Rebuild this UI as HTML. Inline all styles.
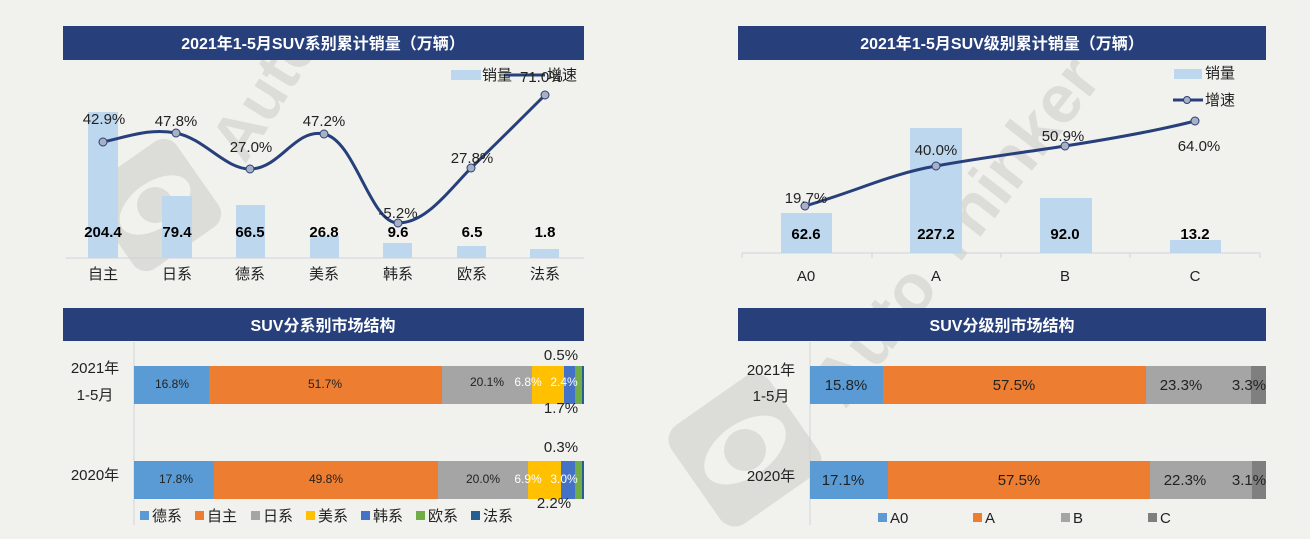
<!DOCTYPE html>
<html><head><meta charset="utf-8"><style>
html,body{margin:0;padding:0;background:#f1f2ee;}
svg{display:block;font-family:"Liberation Sans","Noto Sans CJK SC",sans-serif;}
</style></head><body>
<svg width="1310" height="539" viewBox="0 0 1310 539" xmlns="http://www.w3.org/2000/svg">
<rect width="1310" height="539" fill="#f1f2ee"/>
<!-- watermarks -->
<g fill="#dcddd9">
 <g transform="translate(155,205) rotate(-35)"><rect x="-52" y="-52" width="104" height="104" rx="16"/><ellipse cx="0" cy="0" rx="40" ry="23" fill="#f1f2ee"/><circle cx="0" cy="0" r="18"/></g>
 <text x="0" y="0" font-size="64" font-weight="bold" transform="translate(245,165) rotate(-58)">Auto</text>
 <g transform="translate(745,450) rotate(-35)"><rect x="-60" y="-60" width="120" height="120" rx="18"/><ellipse cx="0" cy="0" rx="46" ry="27" fill="#f1f2ee"/><circle cx="0" cy="0" r="21"/></g>
 <text x="0" y="0" font-size="68" font-weight="bold" transform="translate(845,410) rotate(-52)">Auto Thinker</text>
</g>
<!-- headers -->
<g fill="#273f7a">
 <rect x="63" y="26" width="521" height="34"/>
 <rect x="738" y="26" width="528" height="34"/>
 <rect x="63" y="308" width="521" height="33"/>
 <rect x="738" y="308" width="528" height="33"/>
</g>
<g fill="#fff" font-weight="bold" font-size="16" text-anchor="middle">
 <text x="323" y="49">2021年1-5月SUV系别累计销量（万辆）</text>
 <text x="1002" y="49">2021年1-5月SUV级别累计销量（万辆）</text>
 <text x="323" y="331">SUV分系别市场结构</text>
 <text x="1002" y="331">SUV分级别市场结构</text>
</g>

<!-- top-left chart -->
<line x1="66" y1="258" x2="584" y2="258" stroke="#d0d3d8"/>
<g fill="#bdd7ee">
 <rect x="88" y="112" width="30" height="146"/>
 <rect x="162" y="196" width="30" height="62"/>
 <rect x="236" y="205" width="29" height="53"/>
 <rect x="310" y="236" width="29" height="22"/>
 <rect x="383" y="243" width="29" height="15"/>
 <rect x="457" y="246" width="29" height="12"/>
 <rect x="530" y="249" width="29" height="9"/>
</g>
<path d="M103,142 C130,136 150,128 176,133 C205,139 225,169 250,169 C280,169 295,128 324,134 C355,140 370,223 398,223 C425,223 445,195 471,168 C500,140 520,120 545,95" fill="none" stroke="#273f7a" stroke-width="3"/>
<g fill="#a9b0c2" stroke="#273f7a" stroke-width="1">
 <circle cx="103" cy="142" r="4"/><circle cx="176" cy="133" r="4"/><circle cx="250" cy="169" r="4"/><circle cx="324" cy="134" r="4"/><circle cx="398" cy="223" r="4"/><circle cx="471" cy="168" r="4"/><circle cx="545" cy="95" r="4"/>
</g>
<g font-size="15" fill="#222" text-anchor="middle">
 <text x="104" y="124">42.9%</text><text x="176" y="126">47.8%</text><text x="251" y="152">27.0%</text><text x="324" y="126">47.2%</text><text x="398" y="218">-5.2%</text><text x="472" y="163">27.8%</text>
</g>
<g font-size="15" font-weight="bold" fill="#000" text-anchor="middle">
 <text x="103" y="237">204.4</text><text x="177" y="237">79.4</text><text x="250" y="237">66.5</text><text x="324" y="237">26.8</text><text x="398" y="237">9.6</text><text x="472" y="237">6.5</text><text x="545" y="237">1.8</text>
</g>
<g font-size="15" fill="#222" text-anchor="middle">
 <text x="103" y="279">自主</text><text x="177" y="279">日系</text><text x="250" y="279">德系</text><text x="324" y="279">美系</text><text x="398" y="279">韩系</text><text x="472" y="279">欧系</text><text x="545" y="279">法系</text>
</g>
<rect x="451" y="70" width="30" height="10" fill="#bdd7ee"/>
<text x="482" y="80" font-size="15" fill="#222">销量</text>
<line x1="505" y1="75" x2="545" y2="75" stroke="#273f7a" stroke-width="3"/>
<text x="520" y="82" font-size="15" fill="#222">71.0%</text>
<text x="547" y="80" font-size="15" fill="#222">增速</text>

<!-- top-right chart -->
<line x1="742" y1="253" x2="1260" y2="253" stroke="#d0d3d8"/>
<g stroke="#d0d3d8"><line x1="742" y1="253" x2="742" y2="258"/><line x1="872" y1="253" x2="872" y2="258"/><line x1="1001" y1="253" x2="1001" y2="258"/><line x1="1130" y1="253" x2="1130" y2="258"/><line x1="1260" y1="253" x2="1260" y2="258"/></g>
<g fill="#bdd7ee">
 <rect x="781" y="213" width="51" height="40"/>
 <rect x="910" y="128" width="52" height="125"/>
 <rect x="1040" y="198" width="52" height="55"/>
 <rect x="1170" y="240" width="51" height="13"/>
</g>
<path d="M805,206 C860,190 890,174 936,166 C980,158 1020,153 1065,146 C1110,139 1160,130 1195,121" fill="none" stroke="#273f7a" stroke-width="3"/>
<g fill="#a9b0c2" stroke="#273f7a" stroke-width="1">
 <circle cx="805" cy="206" r="4"/><circle cx="936" cy="166" r="4"/><circle cx="1065" cy="146" r="4"/><circle cx="1195" cy="121" r="4"/>
</g>
<g font-size="15" fill="#222" text-anchor="middle">
 <text x="806" y="203">19.7%</text><text x="936" y="155">40.0%</text><text x="1063" y="141">50.9%</text><text x="1199" y="151">64.0%</text>
</g>
<g font-size="15" font-weight="bold" fill="#000" text-anchor="middle">
 <text x="806" y="239">62.6</text><text x="936" y="239">227.2</text><text x="1065" y="239">92.0</text><text x="1195" y="239">13.2</text>
</g>
<g font-size="15" fill="#222" text-anchor="middle">
 <text x="806" y="281">A0</text><text x="936" y="281">A</text><text x="1065" y="281">B</text><text x="1195" y="281">C</text>
</g>
<rect x="1174" y="69" width="28" height="10" fill="#bdd7ee"/>
<text x="1205" y="78" font-size="15" fill="#222">销量</text>
<line x1="1173" y1="100" x2="1203" y2="100" stroke="#273f7a" stroke-width="3"/>
<circle cx="1187" cy="100" r="3.5" fill="#a9b0c2" stroke="#273f7a"/>
<text x="1205" y="105" font-size="15" fill="#222">增速</text>

<!-- bottom-left -->
<line x1="134" y1="342" x2="134" y2="525" stroke="#d0d3d8"/>
<g>
 <rect x="134" y="366" width="75" height="38" fill="#5b9bd5"/>
 <rect x="209" y="366" width="233" height="38" fill="#ed7d31"/>
 <rect x="442" y="366" width="90" height="38" fill="#a5a5a5"/>
 <rect x="532" y="366" width="32" height="38" fill="#ffc000"/>
 <rect x="564" y="366" width="11" height="38" fill="#4472c4"/>
 <rect x="575" y="366" width="7" height="38" fill="#70ad47"/>
 <rect x="582" y="366" width="2" height="38" fill="#255e91"/>
 <rect x="134" y="461" width="80" height="38" fill="#5b9bd5"/>
 <rect x="214" y="461" width="224" height="38" fill="#ed7d31"/>
 <rect x="438" y="461" width="90" height="38" fill="#a5a5a5"/>
 <rect x="528" y="461" width="33" height="38" fill="#ffc000"/>
 <rect x="561" y="461" width="14" height="38" fill="#4472c4"/>
 <rect x="575" y="461" width="7" height="38" fill="#70ad47"/>
 <rect x="582" y="461" width="2" height="38" fill="#255e91"/>
</g>
<g font-size="12" text-anchor="middle" fill="#222">
 <text x="172" y="388">16.8%</text><text x="325" y="388">51.7%</text><text x="487" y="386">20.1%</text>
 <text x="176" y="483">17.8%</text><text x="326" y="483">49.8%</text><text x="483" y="483">20.0%</text>
</g>
<g font-size="12" text-anchor="middle" fill="#fff">
 <text x="528" y="386">6.8%</text><text x="564" y="386">2.4%</text>
 <text x="528" y="483">6.9%</text><text x="564" y="483">3.0%</text>
</g>
<g font-size="15" text-anchor="middle" fill="#222">
 <text x="561" y="360">0.5%</text><text x="561" y="413">1.7%</text><text x="561" y="452">0.3%</text><text x="554" y="508">2.2%</text>
 <text x="95" y="373">2021年</text><text x="95" y="400">1-5月</text><text x="95" y="480">2020年</text>
</g>
<g font-size="15" fill="#222">
 <rect x="140" y="511" width="9" height="9" fill="#5b9bd5"/><text x="152" y="521">德系</text>
 <rect x="195" y="511" width="9" height="9" fill="#ed7d31"/><text x="207" y="521">自主</text>
 <rect x="251" y="511" width="9" height="9" fill="#a5a5a5"/><text x="263" y="521">日系</text>
 <rect x="306" y="511" width="9" height="9" fill="#ffc000"/><text x="318" y="521">美系</text>
 <rect x="361" y="511" width="9" height="9" fill="#4472c4"/><text x="373" y="521">韩系</text>
 <rect x="416" y="511" width="9" height="9" fill="#70ad47"/><text x="428" y="521">欧系</text>
 <rect x="471" y="511" width="9" height="9" fill="#255e91"/><text x="483" y="521">法系</text>
</g>

<!-- bottom-right -->
<line x1="810" y1="342" x2="810" y2="525" stroke="#d0d3d8"/>
<g>
 <rect x="810" y="366" width="73" height="38" fill="#5b9bd5"/>
 <rect x="883" y="366" width="263" height="38" fill="#ed7d31"/>
 <rect x="1146" y="366" width="105" height="38" fill="#a5a5a5"/>
 <rect x="1251" y="366" width="15" height="38" fill="#7f7f7f"/>
 <rect x="810" y="461" width="78" height="38" fill="#5b9bd5"/>
 <rect x="888" y="461" width="262" height="38" fill="#ed7d31"/>
 <rect x="1150" y="461" width="102" height="38" fill="#a5a5a5"/>
 <rect x="1252" y="461" width="14" height="38" fill="#7f7f7f"/>
</g>
<g font-size="15" text-anchor="middle" fill="#222">
 <text x="846" y="390">15.8%</text><text x="1014" y="390">57.5%</text><text x="1181" y="390">23.3%</text><text x="1249" y="390">3.3%</text>
 <text x="843" y="485">17.1%</text><text x="1019" y="485">57.5%</text><text x="1185" y="485">22.3%</text><text x="1249" y="485">3.1%</text>
 <text x="771" y="375">2021年</text><text x="771" y="401">1-5月</text><text x="771" y="481">2020年</text>
</g>
<g font-size="15" fill="#222">
 <rect x="878" y="513" width="9" height="9" fill="#5b9bd5"/><text x="890" y="523">A0</text>
 <rect x="973" y="513" width="9" height="9" fill="#ed7d31"/><text x="985" y="523">A</text>
 <rect x="1061" y="513" width="9" height="9" fill="#a5a5a5"/><text x="1073" y="523">B</text>
 <rect x="1148" y="513" width="9" height="9" fill="#7f7f7f"/><text x="1160" y="523">C</text>
</g>
</svg>
</body></html>
